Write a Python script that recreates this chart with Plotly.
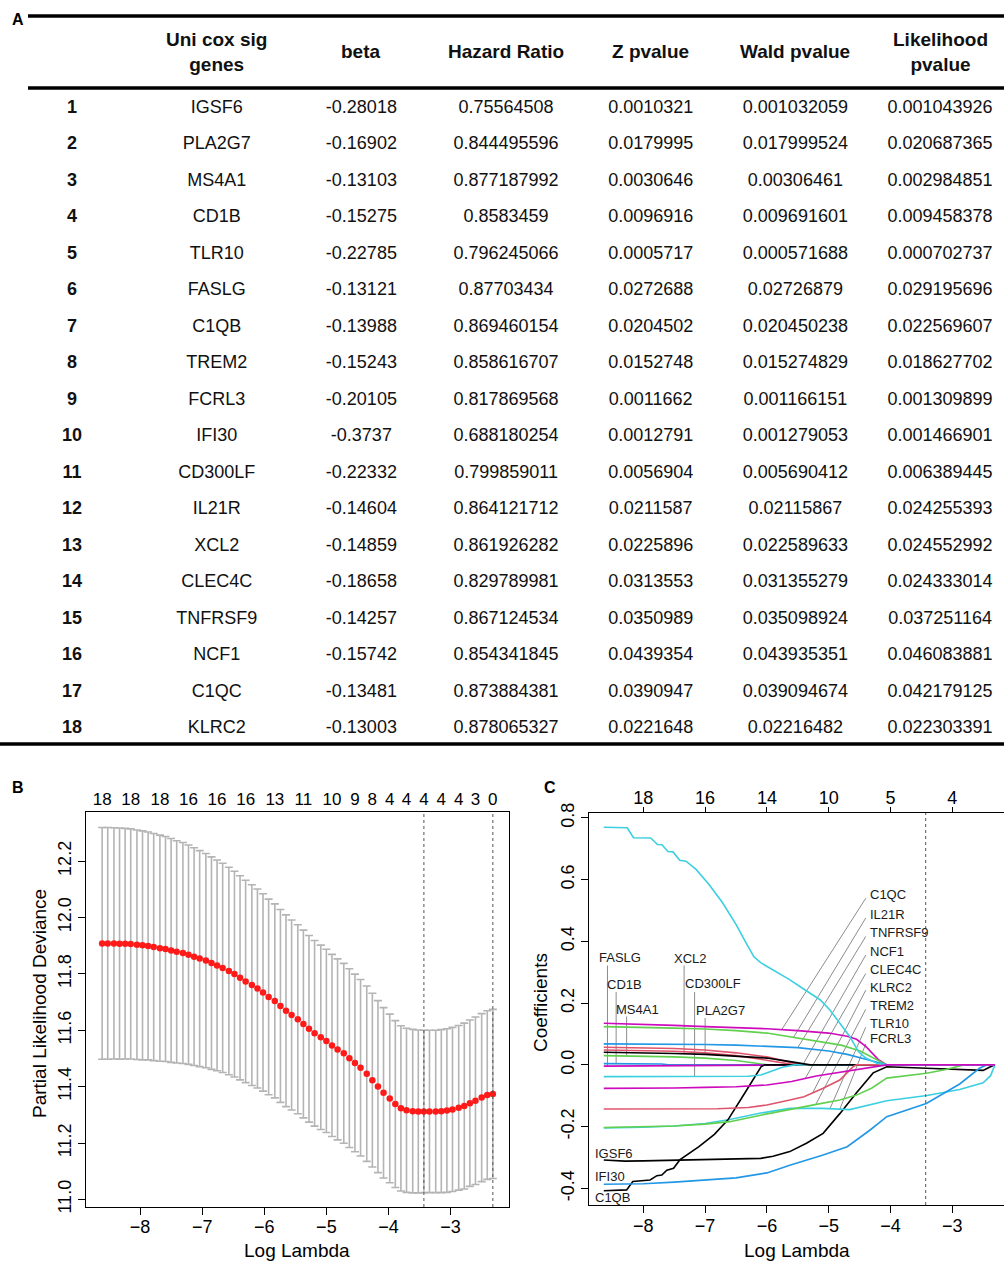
import numpy as np
import plotly.graph_objects as go

FONT = "Liberation Sans, Arial, Helvetica, sans-serif"
W, H = 1004, 1261

# ---------------- Panel A : table data ----------------
row_ids = list(range(1, 19))
genes = ["IGSF6", "PLA2G7", "MS4A1", "CD1B", "TLR10", "FASLG", "C1QB", "TREM2", "FCRL3",
         "IFI30", "CD300LF", "IL21R", "XCL2", "CLEC4C", "TNFRSF9", "NCF1", "C1QC", "KLRC2"]
beta = ["-0.28018", "-0.16902", "-0.13103", "-0.15275", "-0.22785", "-0.13121", "-0.13988",
        "-0.15243", "-0.20105", "-0.3737", "-0.22332", "-0.14604", "-0.14859", "-0.18658",
        "-0.14257", "-0.15742", "-0.13481", "-0.13003"]
hazard_ratio = ["0.75564508", "0.844495596", "0.877187992", "0.8583459", "0.796245066",
                "0.87703434", "0.869460154", "0.858616707", "0.817869568", "0.688180254",
                "0.799859011", "0.864121712", "0.861926282", "0.829789981", "0.867124534",
                "0.854341845", "0.873884381", "0.878065327"]
z_pvalue = ["0.0010321", "0.0179995", "0.0030646", "0.0096916", "0.0005717", "0.0272688",
            "0.0204502", "0.0152748", "0.0011662", "0.0012791", "0.0056904", "0.0211587",
            "0.0225896", "0.0313553", "0.0350989", "0.0439354", "0.0390947", "0.0221648"]
wald_pvalue = ["0.001032059", "0.017999524", "0.00306461", "0.009691601", "0.000571688",
               "0.02726879", "0.020450238", "0.015274829", "0.001166151", "0.001279053",
               "0.005690412", "0.02115867", "0.022589633", "0.031355279", "0.035098924",
               "0.043935351", "0.039094674", "0.02216482"]
likelihood_pvalue = ["0.001043926", "0.020687365", "0.002984851", "0.009458378", "0.000702737",
                     "0.029195696", "0.022569607", "0.018627702", "0.001309899", "0.001466901",
                     "0.006389445", "0.024255393", "0.024552992", "0.024333014", "0.037251164",
                     "0.046083881", "0.042179125", "0.022303391"]
col_keys = ["id", "gene", "beta", "hr", "z", "wald", "lik"]
headers = ["", "Uni cox sig<br>genes", "beta", "Hazard Ratio", "Z pvalue", "Wald pvalue",
           "Likelihood<br>pvalue"]

# ---------------- Panel B : cross-validation curve ----------------
log_lambda = [-8.61, -8.52, -8.42, -8.33, -8.24, -8.15, -8.05, -7.96, -7.87, -7.78,
              -7.68, -7.59, -7.50, -7.41, -7.31, -7.22, -7.13, -7.04, -6.94, -6.85,
              -6.76, -6.67, -6.57, -6.48, -6.39, -6.30, -6.20, -6.11, -6.02, -5.93,
              -5.83, -5.74, -5.65, -5.56, -5.46, -5.37, -5.28, -5.19, -5.09, -5.00,
              -4.91, -4.82, -4.72, -4.63, -4.54, -4.45, -4.35, -4.26, -4.17, -4.08,
              -3.98, -3.89, -3.80, -3.71, -3.61, -3.52, -3.43, -3.34, -3.24, -3.15,
              -3.06, -2.97, -2.87, -2.78, -2.69, -2.60, -2.50, -2.41, -2.32]
cv_mean = [11.908, 11.908, 11.908, 11.907, 11.907, 11.906, 11.903, 11.901, 11.899, 11.895,
           11.891, 11.888, 11.883, 11.878, 11.874, 11.868, 11.861, 11.854, 11.847, 11.838,
           11.830, 11.821, 11.810, 11.799, 11.786, 11.773, 11.760, 11.748, 11.734, 11.718,
           11.704, 11.686, 11.669, 11.654, 11.639, 11.622, 11.605, 11.589, 11.575, 11.562,
           11.546, 11.532, 11.518, 11.501, 11.484, 11.467, 11.446, 11.423, 11.400, 11.378,
           11.358, 11.338, 11.323, 11.316, 11.313, 11.312, 11.312, 11.312, 11.312, 11.313,
           11.315, 11.319, 11.325, 11.331, 11.341, 11.350, 11.361, 11.370, 11.374]
cv_sd = [0.411, 0.411, 0.410, 0.410, 0.409, 0.408, 0.407, 0.406, 0.404, 0.403,
         0.401, 0.399, 0.397, 0.394, 0.392, 0.389, 0.386, 0.383, 0.380, 0.377,
         0.374, 0.371, 0.368, 0.365, 0.362, 0.359, 0.356, 0.353, 0.350, 0.347,
         0.344, 0.342, 0.340, 0.337, 0.335, 0.333, 0.331, 0.329, 0.327, 0.325,
         0.323, 0.321, 0.319, 0.317, 0.315, 0.313, 0.311, 0.308, 0.305, 0.302,
         0.299, 0.296, 0.293, 0.291, 0.290, 0.289, 0.288, 0.288, 0.288, 0.289,
         0.290, 0.291, 0.292, 0.294, 0.295, 0.297, 0.298, 0.299, 0.300]
top_label_idx = [0, 5, 10, 15, 20, 25, 30, 35, 40, 44, 47, 50, 53, 56, 59, 62, 65, 68]
top_label_nz = ["18", "18", "18", "16", "16", "16", "13", "11", "10", "9", "8",
                "4", "4", "4", "4", "4", "3", "0"]
log_lambda_min = -3.43
log_lambda_1se = -2.32

# ---------------- Panel C : coefficient paths ----------------
IGSF6_x = [-8.64, -8.3, -8.0, -7.0, -6.5, -6.1, -5.9, -5.63, -5.36, -5.09, -4.82, -4.55, -4.28, -4.06, -3.42, -2.77, -2.50, -2.40, -2.31]
IGSF6_y = [-0.308, -0.312, -0.311, -0.307, -0.305, -0.303, -0.296, -0.281, -0.254, -0.222, -0.158, -0.090, -0.026, -0.006, -0.011, -0.017, -0.018, -0.008, 0.0]
PLA2G7_x = [-8.64, -8.0, -7.5, -7.0, -6.5, -6.1, -5.8, -5.55]
PLA2G7_y = [0.048, 0.047, 0.044, 0.039, 0.030, 0.018, 0.007, 0.0]
MS4A1_x = [-8.64, -8.0, -7.5, -7.0, -6.5, -6.2, -6.0]
MS4A1_y = [0.030, 0.029, 0.026, 0.022, 0.014, 0.006, 0.0]
CD1B_x = [-8.64, -7.7, -7.6]
CD1B_y = [0.004, 0.003, 0.0]
TLR10_x = [-8.64, -8.0, -7.5, -7.0, -6.6, -6.1, -5.63, -5.1, -4.66, -4.45, -4.06, -3.41, -2.88, -2.50, -2.38, -2.31]
TLR10_y = [-0.204, -0.202, -0.198, -0.190, -0.177, -0.156, -0.141, -0.141, -0.145, -0.135, -0.116, -0.099, -0.080, -0.058, -0.035, 0.0]
FASLG_x = [-8.64, -7.5, -6.5, -5.5]
FASLG_y = [-0.004, -0.003, -0.002, 0.0]
C1QB_x = [-8.64, -8.27, -8.17, -7.89, -7.78, -7.70, -7.62, -7.51, -7.41, -7.10, -6.85, -6.63, -6.36, -6.20, -6.09, -6.03]
C1QB_y = [-0.408, -0.405, -0.378, -0.373, -0.359, -0.357, -0.341, -0.335, -0.308, -0.265, -0.225, -0.178, -0.092, -0.038, -0.005, 0.0]
TREM2_x = [-8.64, -8.0, -7.5, -7.0, -6.5, -6.0, -5.7, -5.45]
TREM2_y = [0.057, 0.056, 0.053, 0.048, 0.039, 0.026, 0.012, 0.0]
FCRL3_x = [-8.64, -8.0, -7.5, -7.0, -6.6, -6.1, -5.63, -5.2, -4.82, -4.55, -4.30, -4.06, -3.42, -3.10, -2.82]
FCRL3_y = [-0.203, -0.201, -0.198, -0.192, -0.184, -0.163, -0.146, -0.128, -0.114, -0.098, -0.075, -0.043, -0.027, -0.015, 0.0]
IFI30_x = [-8.64, -8.0, -7.5, -7.0, -6.5, -6.0, -5.63, -5.09, -4.70, -4.33, -4.06, -3.42, -2.88, -2.56, -2.44]
IFI30_y = [-0.387, -0.385, -0.380, -0.374, -0.366, -0.350, -0.325, -0.292, -0.265, -0.211, -0.168, -0.125, -0.062, -0.011, 0.0]
CD300LF_x = [-8.64, -7.0, -6.3, -6.1, -5.9, -5.75, -5.55]
CD300LF_y = [-0.038, -0.038, -0.037, -0.033, -0.020, -0.008, 0.0]
IL21R_x = [-8.64, -8.0, -7.5, -7.0, -6.5, -6.0, -5.5, -5.0, -4.7, -4.55, -4.40, -4.30, -4.20, -4.06]
IL21R_y = [0.135, 0.132, 0.128, 0.124, 0.121, 0.117, 0.111, 0.103, 0.093, 0.083, 0.060, 0.040, 0.018, 0.0]
XCL2_x = [-8.64, -8.0, -7.5, -7.0, -6.5, -6.0, -5.7, -5.4, -5.3]
XCL2_y = [0.041, 0.040, 0.037, 0.034, 0.029, 0.022, 0.013, 0.003, 0.0]
CLEC4C_x = [-8.64, -7.5, -6.8, -6.3, -6.0, -5.63, -5.40, -5.09, -4.82, -4.70, -4.60, -4.55]
CLEC4C_y = [-0.143, -0.143, -0.142, -0.138, -0.130, -0.114, -0.103, -0.076, -0.049, -0.025, -0.005, 0.0]
TNFRSF9_x = [-8.64, -8.0, -7.5, -7.0, -6.5, -6.0, -5.6, -5.2, -4.8, -4.5, -4.3, -4.06]
TNFRSF9_y = [0.124, 0.122, 0.119, 0.116, 0.111, 0.103, 0.090, 0.076, 0.064, 0.046, 0.025, 0.0]
NCF1_x = [-8.64, -8.0, -7.0, -6.5, -6.0, -5.5, -5.0, -4.7, -4.4, -4.06]
NCF1_y = [0.068, 0.068, 0.066, 0.064, 0.061, 0.056, 0.045, 0.034, 0.018, 0.0]
C1QC_x = [-8.64, -8.26, -8.16, -7.88, -7.77, -7.70, -7.60, -7.52, -7.41, -7.31, -7.15, -6.94, -6.72, -6.50, -6.34, -6.21, -6.10, -5.86, -5.64, -5.40, -5.14, -4.98, -4.80, -4.66, -4.52, -4.40, -4.22, -4.06]
C1QC_y = [0.770, 0.768, 0.736, 0.735, 0.714, 0.713, 0.691, 0.690, 0.663, 0.660, 0.634, 0.585, 0.526, 0.455, 0.396, 0.350, 0.331, 0.304, 0.277, 0.245, 0.211, 0.178, 0.128, 0.092, 0.043, 0.022, 0.005, 0.0]
KLRC2_x = [-8.64, -8.0, -7.5, -7.0, -6.5, -6.0, -5.6, -5.2, -4.8, -4.4, -4.06]
KLRC2_y = [-0.076, -0.076, -0.075, -0.073, -0.071, -0.065, -0.054, -0.036, -0.024, -0.010, 0.0]

path_x = [IGSF6_x, PLA2G7_x, MS4A1_x, CD1B_x, TLR10_x, FASLG_x, C1QB_x, TREM2_x, FCRL3_x,
          IFI30_x, CD300LF_x, IL21R_x, XCL2_x, CLEC4C_x, TNFRSF9_x, NCF1_x, C1QC_x, KLRC2_x]
path_y = [IGSF6_y, PLA2G7_y, MS4A1_y, CD1B_y, TLR10_y, FASLG_y, C1QB_y, TREM2_y, FCRL3_y,
          IFI30_y, CD300LF_y, IL21R_y, XCL2_y, CLEC4C_y, TNFRSF9_y, NCF1_y, C1QC_y, KLRC2_y]
path_end_loglambda = -2.31
c_top_ticks = [-8, -7, -6, -5, -4, -3]
c_top_nz = ["18", "16", "14", "10", "5", "4"]

# R default palette cycled (matplot col = 1:6)
palette = ["#000000", "#DF536B", "#61D04F", "#2297E6", "#3CCFE0", "#CD0BBC"]

fig = go.Figure()

# ---------- Panel A : table as text traces ----------
columns = [[f"{i}" for i in row_ids], genes, beta, hazard_ratio, z_pvalue, wald_pvalue, likelihood_pvalue]
for k, (key, vals) in enumerate(zip(col_keys, columns)):
    fig.add_trace(go.Scatter(
        x=[key] * len(vals), y=row_ids, mode="text", text=vals,
        textfont=dict(family=FONT, size=18, color="#111111",
                      weight="bold" if key == "id" else "normal"),
        xaxis="x3", yaxis="y3", hoverinfo="skip", showlegend=False))

# ---------- Panel B ----------
fig.add_trace(go.Scatter(
    x=log_lambda, y=cv_mean, mode="markers",
    marker=dict(color="#FF1A1A", size=6.5, line=dict(width=0)),
    error_y=dict(type="data", array=cv_sd, visible=True, color="#B4B4B4",
                 thickness=1.6, width=4),
    xaxis="x", yaxis="y", showlegend=False, hoverinfo="x+y"))
fig.add_trace(go.Scatter(x=log_lambda, y=cv_mean, mode="markers", opacity=0,
                         xaxis="x2", yaxis="y", showlegend=False, hoverinfo="skip"))

# ---------- Panel C ----------
for i, (g, xs, ys) in enumerate(zip(genes, path_x, path_y)):
    xs = list(xs)
    ys = list(ys)
    if xs[-1] < path_end_loglambda:
        xs.append(path_end_loglambda)
        ys.append(0.0)
    fig.add_trace(go.Scatter(
        x=xs, y=ys, mode="lines", name=g,
        line=dict(color=palette[i % 6], width=1.6),
        xaxis="x4", yaxis="y4", showlegend=False))
fig.add_trace(go.Scatter(x=c_top_ticks, y=[0] * len(c_top_ticks), mode="markers", opacity=0,
                         xaxis="x5", yaxis="y4", showlegend=False, hoverinfo="skip"))

gene_index = {g: i for i, g in enumerate(genes)}


def coef_at(gene, x):
    i = gene_index[gene]
    xs = list(path_x[i]) + [path_end_loglambda]
    ys = list(path_y[i]) + [0.0]
    return float(np.interp(x, xs, ys))


shapes = []
annotations = []
label_font = dict(family=FONT, size=13, color="#1a1a1a")
lead = dict(color="#6e6e6e", width=0.8)

# left, vertical leaders: (label, text center x, text y, leader x, leader top y, target gene)
left_labels = [("FASLG", -8.38, 0.347, -8.58, 0.322, "FASLG"),
               ("CD1B", -8.30, 0.262, -8.44, 0.236, "CD1B"),
               ("MS4A1", -8.09, 0.181, -8.27, 0.157, "MS4A1"),
               ("XCL2", -7.23, 0.344, -7.34, 0.322, "XCL2"),
               ("CD300LF", -6.88, 0.263, -7.17, 0.236, "CD300LF"),
               ("PLA2G7", -6.75, 0.177, -7.00, 0.152, "PLA2G7")]
for txt, tx, ty, lx, ly, g in left_labels:
    annotations.append(dict(x=tx, y=ty, xref="x4", yref="y4", text=txt, showarrow=False,
                            font=label_font, xanchor="center", yanchor="middle"))
    shapes.append(dict(type="line", xref="x4", yref="y4", x0=lx, x1=lx, y0=ly,
                       y1=coef_at(g, lx), line=lead, layer="below"))

# right, diagonal leaders: (label, text y, leader start y, target gene, target x)
right_labels = [("C1QC", 0.551, 0.540, "IL21R", -5.76),
                ("IL21R", 0.488, 0.476, "TNFRSF9", -5.57),
                ("TNFRSF9", 0.428, 0.416, "NCF1", -5.50),
                ("NCF1", 0.368, 0.356, "FASLG", -5.42),
                ("CLEC4C", 0.309, 0.296, "KLRC2", -5.38),
                ("KLRC2", 0.252, 0.242, "CLEC4C", -5.26),
                ("TREM2", 0.193, 0.180, "FCRL3", -5.21),
                ("TLR10", 0.135, 0.122, "TLR10", -4.98),
                ("FCRL3", 0.086, 0.068, "TLR10", -4.82)]
for txt, ty, ly, g, gx in right_labels:
    annotations.append(dict(x=-4.37, y=ty, xref="x4", yref="y4", text=txt, showarrow=False,
                            font=label_font, xanchor="left", yanchor="middle"))
    shapes.append(dict(type="line", xref="x4", yref="y4", x0=-4.40, y0=ly, x1=gx,
                       y1=coef_at(g, gx), line=lead, layer="below"))

# labels placed directly on the lines at the left
for txt, g, dy in [("IGSF6", "IGSF6", 0.022), ("IFI30", "IFI30", 0.025), ("C1QB", "C1QB", -0.022)]:
    annotations.append(dict(x=-8.82, y=coef_at(g, -8.64) + dy, xref="x4", yref="y4", text=txt,
                            showarrow=False, font=label_font, xanchor="left", yanchor="middle"))

# dotted vertical lines
for xv in (log_lambda_min, log_lambda_1se):
    shapes.append(dict(type="line", xref="x", yref="y domain", x0=xv, x1=xv, y0=0, y1=1,
                       line=dict(color="#555555", width=1, dash="dot")))
shapes.append(dict(type="line", xref="x4", yref="y4 domain", x0=log_lambda_min, x1=log_lambda_min,
                   y0=0, y1=1, line=dict(color="#555555", width=1, dash="dot")))


# table geometry: pixel y -> table row coordinate
def prow(p):
    return 1 + (p - 108.5) / 36.47


def pyp(p):  # pixel y -> paper y
    return 1 - p / H


for yp, x0 in [(16, 28), (88, 28), (744, 0)]:
    shapes.append(dict(type="line", xref="paper", yref="paper", x0=x0 / W, x1=1,
                       y0=pyp(yp), y1=pyp(yp), line=dict(color="black", width=3.5)))

# table headers
for key, htxt in zip(col_keys, headers):
    if htxt:
        annotations.append(dict(x=key, y=pyp(52), xref="x3", yref="paper", text=htxt,
                                showarrow=False, align="center",
                                font=dict(family=FONT, size=19, color="#111111", weight="bold"),
                                xanchor="center", yanchor="middle"))

# panel letters and axis titles (paper pixel positions)
def pp(xp, yp):
    return xp / W, 1 - yp / H

for txt, xp, yp in [("A", 18, 20), ("B", 18, 787), ("C", 550, 787)]:
    x, y = pp(xp, yp)
    annotations.append(dict(x=x, y=y, xref="paper", yref="paper", text=txt, showarrow=False,
                            font=dict(family=FONT, size=16, color="black", weight="bold"),
                            xanchor="center", yanchor="middle"))
for txt, xp, yp, ang in [("Log Lambda", 297, 1250, 0), ("Partial Likelihood Deviance", 40, 1004, -90),
                         ("Log Lambda", 797, 1250, 0), ("Coefficients", 541, 1003, -90)]:
    x, y = pp(xp, yp)
    annotations.append(dict(x=x, y=y, xref="paper", yref="paper", text=txt, showarrow=False,
                            textangle=ang, font=dict(family=FONT, size=19, color="black"),
                            xanchor="center", yanchor="middle"))

axis_common = dict(showgrid=False, zeroline=False, ticks="outside", ticklen=7, tickwidth=1,
                   tickcolor="black", showline=True, linecolor="black", linewidth=1,
                   automargin=False, tickfont=dict(family=FONT, size=18, color="black"))

b_yticks = [11.0, 11.2, 11.4, 11.6, 11.8, 12.0, 12.2]
c_yticks = [-0.4, -0.2, 0.0, 0.2, 0.4, 0.6, 0.8]

fig.update_layout(
    width=W, height=H, margin=dict(l=0, r=0, t=0, b=0, pad=0, autoexpand=False),
    paper_bgcolor="white", plot_bgcolor="white", showlegend=False,
    font=dict(family=FONT, color="black"),
    xaxis=dict(domain=[86 / W, 509 / W], range=[-8.87, -2.06], tickvals=[-8, -7, -6, -5, -4, -3],
               mirror=True, anchor="y", ticklabelstandoff=-4, **axis_common),
    yaxis=dict(domain=[1 - 1207 / H, 1 - 812 / H], range=[10.973, 12.374], tickvals=b_yticks,
               ticktext=[f"{v:.1f}" for v in b_yticks], tickangle=-90, mirror=True, anchor="x",
               **axis_common),
    xaxis2=dict(overlaying="x", side="top", anchor="y", range=[-8.87, -2.06],
                tickvals=[log_lambda[i] for i in top_label_idx], ticktext=top_label_nz,
                ticks="", showline=False, showgrid=False, zeroline=False, automargin=False,
                ticklabelstandoff=3,
                tickfont=dict(family=FONT, size=17, color="black")),
    xaxis3=dict(domain=[0, 1], range=[-0.498, 6.442], type="category", categoryorder="array",
                categoryarray=col_keys, visible=False, anchor="y3", automargin=False),
    yaxis3=dict(domain=[1 - 760 / H, 1], range=[prow(760), prow(0)], visible=False, anchor="x3",
                automargin=False),
    xaxis4=dict(domain=[589 / W, 1.0], range=[-8.879, -2.163], tickvals=[-8, -7, -6, -5, -4, -3],
                mirror=True, anchor="y4", ticklabelstandoff=-3, **axis_common),
    yaxis4=dict(domain=[1 - 1205 / H, 1 - 813 / H], range=[-0.454, 0.816], tickvals=c_yticks,
                ticktext=[f"{v:.1f}" for v in c_yticks], tickangle=-90, anchor="x4", mirror=False,
                **axis_common),
    xaxis5=dict(overlaying="x4", side="top", anchor="y4", range=[-8.879, -2.163],
                tickvals=c_top_ticks, ticktext=c_top_nz, ticks="outside", ticklen=5,
                tickcolor="black", showline=False, showgrid=False, zeroline=False, automargin=False,
                ticklabelstandoff=-4,
                tickfont=dict(family=FONT, size=18, color="black")),
    shapes=shapes, annotations=annotations,
)

fig.write_html("out.html", config={"displayModeBar": False},
               post_script="document.body.style.margin='0px';document.body.style.overflow='hidden';")
